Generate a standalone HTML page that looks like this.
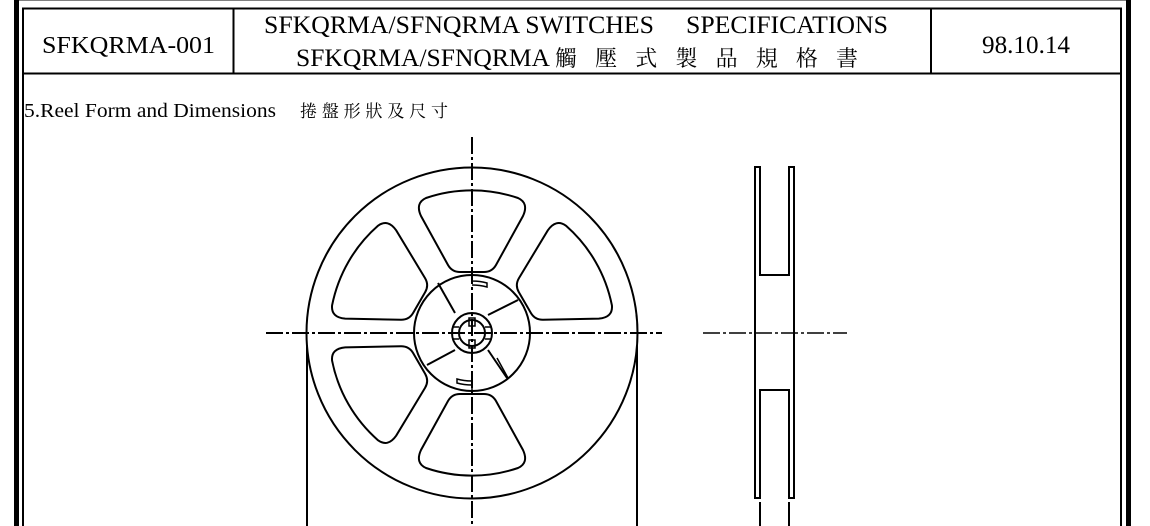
<!DOCTYPE html>
<html><head><meta charset="utf-8"><style>
html,body{margin:0;padding:0;background:#fff;width:1150px;height:526px;overflow:hidden}
svg{display:block;overflow:hidden}
text{font-family:"Liberation Serif","Noto Serif CJK SC","Noto Sans CJK TC",serif;fill:#000}
</style></head><body>
<svg width="1150" height="526" viewBox="0 0 1150 526">
<!-- frame -->
<path d="M 16.5,526 L 16.5,-2 L 1128.5,-2 L 1128.5,526" fill="none" stroke="#000" stroke-width="5"/>
<path d="M 23,526 L 23,8.5 L 1121,8.5 L 1121,526" fill="none" stroke="#000" stroke-width="2"/>
<line x1="23" y1="73.5" x2="1121" y2="73.5" stroke="#000" stroke-width="2"/>
<line x1="233.5" y1="8" x2="233.5" y2="74" stroke="#000" stroke-width="2"/>
<line x1="931" y1="8" x2="931" y2="74" stroke="#000" stroke-width="2"/>
<!-- header text -->
<text x="42" y="53" font-size="24" textLength="173" lengthAdjust="spacingAndGlyphs">SFKQRMA-001</text>
<text x="264" y="33" font-size="25" textLength="390" lengthAdjust="spacingAndGlyphs">SFKQRMA/SFNQRMA SWITCHES</text>
<text x="686" y="33" font-size="25" textLength="202" lengthAdjust="spacingAndGlyphs">SPECIFICATIONS</text>
<text x="296" y="66" font-size="25" textLength="254" lengthAdjust="spacingAndGlyphs">SFKQRMA/SFNQRMA</text>
<text x="555" y="66" font-size="22" textLength="303" lengthAdjust="spacing">觸壓式製品規格書</text>
<text x="982" y="53" font-size="25" textLength="88" lengthAdjust="spacingAndGlyphs">98.10.14</text>
<text x="24" y="117" font-size="20" textLength="252" lengthAdjust="spacingAndGlyphs">5.Reel Form and Dimensions</text>
<text x="300" y="117" font-size="17" textLength="148" lengthAdjust="spacing">捲盤形狀及尺寸</text>

<g fill="none" stroke="#000" stroke-width="2">
<!-- center lines -->
<line x1="266" y1="333" x2="662" y2="333" stroke-dasharray="17 3 3 3"/>
<line x1="472" y1="137" x2="472" y2="526" stroke-dasharray="17 3 3 3"/>
<line x1="703" y1="333" x2="847" y2="333" stroke-dasharray="17 3 3 3" stroke-width="1.5"/>
<!-- reel -->
<circle cx="472" cy="333" r="165.5"/>
<line x1="307" y1="345" x2="307" y2="526"/>
<line x1="637" y1="345" x2="637" y2="526"/>
<g transform="translate(472,333)">
 <g id="w">
  <path d="M -12,-61 L 12,-61 Q 20,-61 24,-68 L 51,-117 Q 57,-130 46,-135 A 143 143 0 0 0 -46,-135 Q -57,-130 -51,-117 L -24,-68 Q -20,-61 -12,-61 Z"/>
 </g>
 <use href="#w" transform="rotate(60)"/>
 <use href="#w" transform="rotate(-60)"/>
 <use href="#w" transform="rotate(180)"/>
 <use href="#w" transform="rotate(-120)"/>
 <circle r="58"/>
 <circle r="20"/>
 <circle r="13"/>
 <line x1="-34" y1="-50" x2="-17" y2="-20"/>
 <line x1="46" y1="-33" x2="16" y2="-18"/>
 <line x1="-45" y1="32" x2="-17" y2="17"/>
 <line x1="16" y1="17" x2="35" y2="45"/>
 <line x1="25" y1="25" x2="36" y2="45" stroke-width="1.5"/>
 <path d="M 0,-57 L 0,-52 Q 8,-52 15,-50 L 15,-46 Q 8,-48 0,-48" stroke-width="1.5"/>
 <path d="M 0,57 L 0,52 Q -8,52 -15,50 L -15,46 Q -8,48 0,48" stroke-width="1.5"/>
 <rect x="-3" y="-15" width="6" height="8" stroke-width="1.5"/>
 <rect x="-3" y="7" width="6" height="8" stroke-width="1.5"/>
 <line x1="-20" y1="-6" x2="-13" y2="-6" stroke-width="1.5"/>
 <line x1="-20" y1="6" x2="-13" y2="6" stroke-width="1.5"/>
 <line x1="13" y1="-6" x2="20" y2="-6" stroke-width="1.5"/>
 <line x1="13" y1="6" x2="20" y2="6" stroke-width="1.5"/>
</g>
<!-- side view -->
<path d="M 755,498 L 755,167 L 760,167 L 760,275 L 789,275 L 789,167 L 794,167 L 794,498 L 789,498 L 789,390 L 760,390 L 760,498 Z"/>
<line x1="755" y1="275" x2="755" y2="390"/>
<line x1="760" y1="502" x2="760" y2="526"/>
<line x1="789" y1="502" x2="789" y2="526"/>
</g>
</svg>
</body></html>
